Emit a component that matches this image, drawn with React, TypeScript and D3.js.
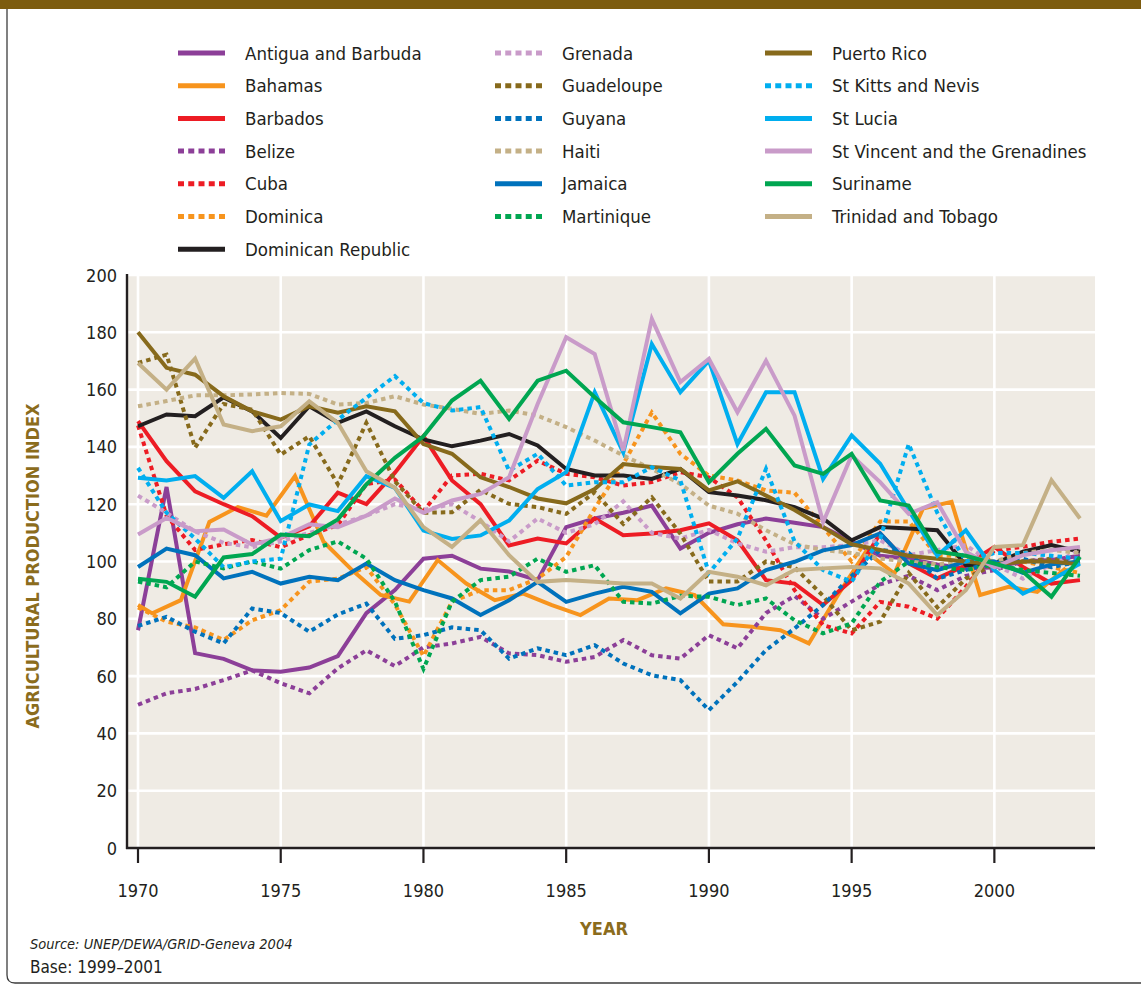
import React from "react";
import * as d3 from "d3";

// ---------- data ----------
const years = [
  1970, 1971, 1972, 1973, 1974, 1975, 1976, 1977, 1978, 1979,
  1980, 1981, 1982, 1983, 1984, 1985, 1986, 1987, 1988, 1989,
  1990, 1991, 1992, 1993, 1994, 1995, 1996, 1997, 1998, 1999,
  2000, 2001, 2002, 2003,
];
// the Bahamas series is plotted half a year out of step in the source chart
const bahamasYears = [
  1970, 1970.5, 1971.5, 1972.5, 1973.5, 1974.5, 1975.5, 1976.5, 1977.5, 1978.5, 1979.5,
  1980.5, 1981.5, 1982.5, 1983.5, 1984.5, 1985.5, 1986.5, 1987.5, 1988.5, 1989.5,
  1990.5, 1991.5, 1992.5, 1993.5, 1994.5, 1995.5, 1996.5, 1997.5, 1998.5, 1999.5,
  2000.5, 2001.5, 2002.5,
];
const xTicks = [1970, 1975, 1980, 1985, 1990, 1995, 2000];
const yTicks = [0, 20, 40, 60, 80, 100, 120, 140, 160, 180, 200];

const antigua = [76, 126, 68, 66, 62, 61.5, 63, 67, 82, 90, 101, 102, 97.5, 96.5, 93.5, 112, 115, 117, 119.5, 104.5, 110, 113, 115, 113.5, 112, 107, 102, 101, 99, 97.5, 98, 100, 100.5, 102];
const bahamas = [84.8, 81.9, 86.5, 113.8, 119, 116, 129.8, 106.9, 97, 88.3, 86, 100.5, 92.3, 86.5, 88.8, 84.8, 81.3, 87.1, 86.5, 90.6, 88.3, 78.1, 77.2, 76, 71.4, 88, 103.4, 95.8, 118.5, 120.8, 88.3, 91.2, 89.4, 97.6];
const barbados = [149, 135, 124.5, 120, 115.8, 108.3, 112.3, 124, 120, 131, 143.7, 128.3, 120, 105.6, 108, 106.3, 115, 109.2, 109.8, 110.9, 113.3, 107.4, 93.5, 92.3, 84.8, 93.5, 109.8, 99.3, 94.1, 98.7, 105.1, 98.1, 92.3, 93.5];
const belize = [50, 54, 55.5, 58.6, 62, 57.5, 54, 62.7, 69, 63.5, 70, 71.4, 73.7, 67.9, 67.3, 65, 66.7, 72.6, 67.3, 66.1, 74.3, 69.7, 82, 88, 80, 86, 92, 95, 90, 95, 97, 100, 101, 101];
const cuba = [147.5, 116, 104, 106, 107.5, 105, 109.2, 112.7, 127, 128.6, 117.6, 130, 130.6, 128.3, 135.2, 130.6, 129.4, 126.5, 127.7, 131.2, 129.4, 122.4, 107.3, 90, 77.8, 74.9, 85.9, 84.2, 80.1, 91.2, 103.9, 105.1, 106.9, 108];
const dominica = [84, 79, 77, 72.6, 79.5, 83, 93, 94, 98, 85, 67, 86, 90, 90, 94, 101.6, 118.5, 134, 152, 137.6, 130, 128.3, 124.8, 124, 112, 100, 114, 114, 102, 102, 100, 100, 98, 96];
const dominicanRep = [147.2, 151.3, 150.7, 157.3, 152.4, 143.1, 154.2, 148.4, 152.4, 147.2, 142.6, 140.2, 142.2, 144.5, 140.5, 132.3, 130, 130, 128.8, 132.3, 124.2, 123, 121.4, 119, 115, 107.4, 112, 111.5, 110.9, 98.7, 99.3, 103.4, 105.7, 103.4];
const grenada = [123, 117, 110.5, 106.5, 105, 107, 110, 112.9, 116, 120, 118, 120, 114, 107, 115, 110, 113, 121, 110, 108, 111, 106.3, 103.4, 105, 105, 105.7, 107.4, 102.2, 104, 105.7, 99, 94, 99, 104];
const guadeloupe = [169.3, 172.2, 139.7, 155, 153, 137.3, 143.7, 127, 148.4, 128, 117, 117.2, 125, 120.1, 119, 116.6, 124.2, 113.1, 122.4, 109.7, 93, 93, 100, 98, 88, 76, 79, 96, 84, 94, 99, 100, 101, 99];
const guyana = [77.5, 80.7, 75.5, 71.4, 83.6, 82, 75.5, 81.5, 85.3, 73, 74.3, 77, 76, 66.1, 69.7, 67.3, 70.8, 64.4, 60.3, 58.6, 48.1, 58, 69.1, 76.6, 84.8, 95, 104, 103, 94, 97, 100, 101, 98, 100];
const haiti = [154.2, 156, 158, 158, 158.3, 158.8, 158.5, 154.8, 155.3, 157.7, 154.8, 153.3, 151.5, 152.7, 150.9, 146.9, 142.2, 137, 132.3, 127.1, 119.5, 116.7, 110.9, 106, 104, 103, 101, 100, 99, 100, 100, 103, 104, 103];
const jamaica = [98.1, 104.5, 102.2, 94.1, 96.4, 92.3, 94.7, 93.5, 99.3, 93.5, 90, 87.1, 81.3, 86.5, 92.9, 85.9, 88.8, 91.2, 89.4, 81.9, 88.8, 90.6, 97, 99.9, 103.9, 105.7, 109.8, 99.3, 97, 100, 100, 96, 99, 100];
const martinique = [93, 91, 100, 97.6, 100, 97.5, 104, 107, 101, 86, 62.5, 86, 93.5, 94.7, 101, 96.4, 98.7, 85.9, 85.3, 88, 87.7, 84.8, 87.1, 79.5, 74.9, 78.4, 92.9, 100, 98, 97, 99, 97, 96, 95];
const puertoRico = [180, 167.6, 165.2, 157.7, 152.4, 149.5, 154.2, 151.9, 154.2, 152.4, 141, 137.6, 129.4, 126, 122, 120.3, 125.3, 134, 133, 132.3, 124.8, 128, 123, 118, 112, 106, 104, 102, 101, 100, 99, 100, 100, 99];
const stKitts = [132.7, 117, 108, 98, 100, 101, 140.8, 149.5, 157.1, 164.7, 155.3, 152.7, 153.9, 131.7, 137.6, 126.5, 127.7, 127.7, 132.9, 128.3, 96, 108, 132.3, 107, 97, 93, 108, 141, 117, 100, 103, 103, 102, 101];
const stLucia = [129.2, 128.3, 129.8, 122.2, 131.5, 114.1, 119.9, 117.6, 129.8, 125.7, 110.8, 107.9, 109.1, 114.3, 125.3, 131.2, 159.1, 138.1, 175.9, 159.1, 170.1, 141, 159.1, 159.1, 128.8, 144, 134.1, 117.8, 102, 110.9, 97, 88.8, 93.5, 99.3];
const stVincent = [109.4, 115.2, 110.6, 111.2, 105.9, 108.3, 113, 112, 116, 122, 117, 121.3, 123.6, 129.4, 155, 178.3, 172.4, 138.7, 184.7, 162.6, 170.7, 152.1, 170.1, 150.9, 113.7, 137, 127.7, 116.6, 120.7, 103.4, 98, 102.2, 103.9, 105.1];
const suriname = [94, 92.9, 87.7, 101.4, 102.6, 109.4, 108.8, 114.7, 126.9, 136.2, 143.7, 156.2, 163.1, 149.8, 163.1, 166.6, 157.3, 148.6, 146.9, 145.1, 127.7, 137.6, 146.3, 133.5, 130.6, 137.6, 121.3, 119.5, 103.4, 102, 99.3, 96.4, 87.7, 101.6];
const trinidad = [169.3, 160, 170.8, 147.8, 145.5, 147.2, 155.9, 148.4, 131.5, 125.7, 112, 105.1, 114.4, 102.2, 92.9, 93.5, 92.9, 92.3, 92.3, 87.1, 96.4, 94.7, 91.7, 97, 97.6, 98.1, 97.6, 92.3, 81.3, 90, 105.1, 105.7, 128.4, 115];

const countryNames = [
  "Antigua and Barbuda", "Bahamas", "Barbados", "Belize", "Cuba", "Dominica", "Dominican Republic",
  "Grenada", "Guadeloupe", "Guyana", "Haiti", "Jamaica", "Martinique",
  "Puerto Rico", "St Kitts and Nevis", "St Lucia", "St Vincent and the Grenadines", "Suriname", "Trinidad and Tobago",
];
const countryValues = [
  antigua, bahamas, barbados, belize, cuba, dominica, dominicanRep,
  grenada, guadeloupe, guyana, haiti, jamaica, martinique,
  puertoRico, stKitts, stLucia, stVincent, suriname, trinidad,
];
const countryYears = countryNames.map((n) => (n === "Bahamas" ? bahamasYears : years));

// ---------- styles ----------
const PURPLE = "#8c3f98";
const ORANGE = "#f7941d";
const RED = "#ed1c24";
const BLACK = "#231f20";
const LILAC = "#c99bc9";
const OLIVE = "#876a1c";
const BLUE = "#0072bc";
const TAN = "#c4b086";
const GREEN = "#00a651";
const CYAN = "#00aeef";

const countryColors = [
  PURPLE, ORANGE, RED, PURPLE, RED, ORANGE, BLACK,
  LILAC, OLIVE, BLUE, TAN, BLUE, GREEN,
  OLIVE, CYAN, CYAN, LILAC, GREEN, TAN,
];
const countryDotted = [
  false, false, false, true, true, true, false,
  true, true, true, true, false, true,
  false, true, false, false, false, false,
];

const FONT = "'Liberation Sans Narrow', 'DejaVu Sans Condensed', 'Roboto Condensed', 'Arial Narrow', sans-serif";
const TEXT = "#231f20";
const BROWN = "#8b6c1d";

const W = 1141;
const H = 985;
const PLOT_L = 127;
const PLOT_R = 1095;
const PLOT_T = 275;
const PLOT_B = 848;

export default function App() {
  const x = d3.scaleLinear().domain([1970, 2003]).range([138, 1080]);
  const y = d3.scaleLinear().domain([0, 200]).range([PLOT_B, PLOT_T]);
  const line = d3
    .line<[number, number]>()
    .x((d) => x(d[0]))
    .y((d) => y(d[1]));

  const series = countryNames.map((name, i) => ({
    name,
    color: countryColors[i],
    dotted: countryDotted[i],
    points: countryValues[i].map((v, j) => [countryYears[i][j], v] as [number, number]),
  }));

  const legendCols = [178, 495, 765];
  const legendRow0 = 53;
  const legendRowStep = 32.7;

  const legendItems = series.map((s, i) => {
    let col = 0;
    let row = i;
    if (i >= 7 && i < 13) {
      col = 1;
      row = i - 7;
    } else if (i >= 13) {
      col = 2;
      row = i - 13;
    }
    return { ...s, lx: legendCols[col], ly: legendRow0 + row * legendRowStep };
  });

  return (
    <svg
      width={W}
      height={H}
      style={{ position: "absolute", left: 0, top: 0, background: "#fff" }}
      fontFamily={FONT}
    >
      <rect x={0} y={0} width={W} height={9} fill="#7d5c0f" />
      <path d={`M7,9 V975 Q7,983 15,983 H${W}`} fill="none" stroke="#3d3d3d" strokeWidth={1.3} />

      {/* legend */}
      {legendItems.map((s) => (
        <g key={s.name}>
          <line
            x1={s.lx}
            x2={s.lx + 47}
            y1={s.ly}
            y2={s.ly}
            stroke={s.color}
            strokeWidth={5}
            strokeDasharray={s.dotted ? "6 4.25" : undefined}
          />
          <text x={s.lx + 67} y={s.ly + 6.5} fontSize={18.5} fill={TEXT}>
            {s.name}
          </text>
        </g>
      ))}

      {/* plot background */}
      <rect x={PLOT_L} y={PLOT_T} width={PLOT_R - PLOT_L} height={PLOT_B - PLOT_T} fill="#efebe4" />
      {yTicks.map((t) => (
        <line key={"gy" + t} x1={PLOT_L} x2={PLOT_R} y1={y(t)} y2={y(t)} stroke="#fff" strokeWidth={2.6} />
      ))}
      {xTicks.map((t) => (
        <line key={"gx" + t} x1={x(t)} x2={x(t)} y1={PLOT_T} y2={PLOT_B} stroke="#fff" strokeWidth={2.6} />
      ))}

      {/* series */}
      {series.map((s) => (
        <path
          key={s.name}
          d={line(s.points) || ""}
          fill="none"
          stroke={s.color}
          strokeWidth={4}
          strokeDasharray={s.dotted ? "4.5 4" : undefined}
          strokeLinejoin="miter"
          strokeMiterlimit={4}
        />
      ))}

      {/* axes */}
      <line x1={PLOT_L} x2={PLOT_L} y1={PLOT_T - 1} y2={PLOT_B + 1} stroke={TEXT} strokeWidth={2.4} />
      <line x1={PLOT_L - 1} x2={PLOT_R} y1={PLOT_B} y2={PLOT_B} stroke={TEXT} strokeWidth={2.4} />
      {xTicks.map((t) => (
        <g key={"tx" + t}>
          <line x1={x(t)} x2={x(t)} y1={PLOT_B} y2={PLOT_B + 15} stroke={TEXT} strokeWidth={2.2} />
          <text x={x(t)} y={897} textAnchor="middle" fontSize={18} fill={TEXT}>
            {t}
          </text>
        </g>
      ))}
      {yTicks.map((t) => (
        <text key={"ty" + t} x={117} y={y(t) + 6.5} textAnchor="end" fontSize={18} fill={TEXT}>
          {t}
        </text>
      ))}

      <text
        transform="translate(39,566) rotate(-90)"
        textAnchor="middle"
        fontSize={18}
        fontWeight="bold"
        fill={BROWN}
      >
        AGRICULTURAL PRODUCTION INDEX
      </text>
      <text x={604} y={935} textAnchor="middle" fontSize={18} fontWeight="bold" fill={BROWN}>
        YEAR
      </text>
      <text x={30} y={949} fontSize={14.5} fontStyle="italic" fill={TEXT}>
        Source: UNEP/DEWA/GRID-Geneva 2004
      </text>
      <text x={30} y={973} fontSize={17} fill={TEXT}>
        Base: 1999–2001
      </text>
    </svg>
  );
}
